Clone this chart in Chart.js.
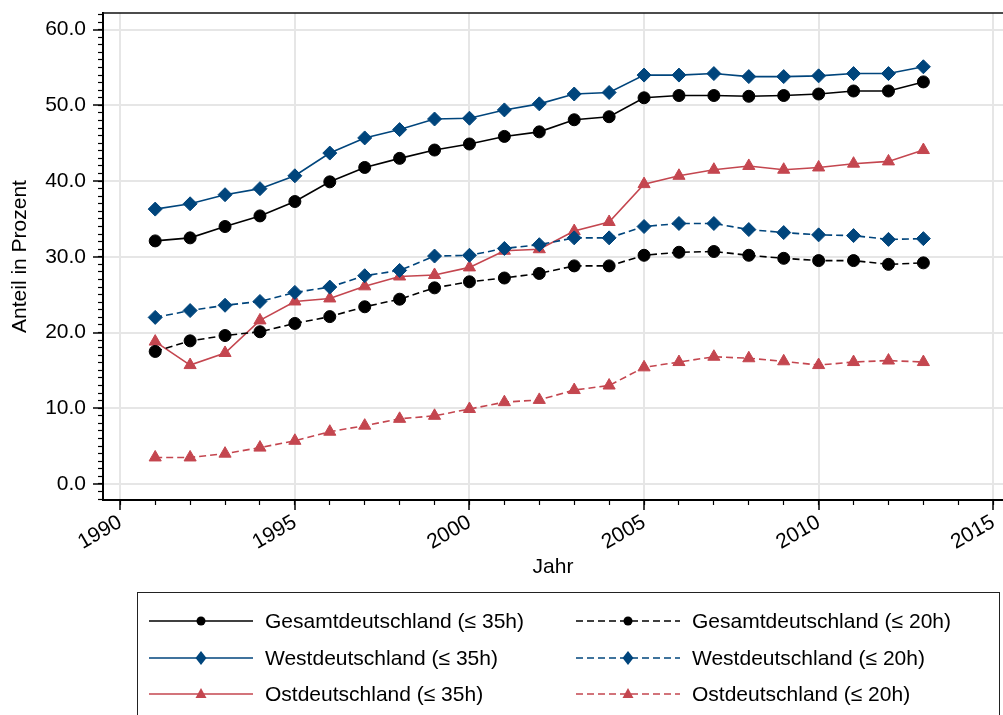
<!DOCTYPE html>
<html lang="de">
<head>
<meta charset="utf-8">
<title>Anteil in Prozent</title>
<script src="https://cdn.jsdelivr.net/npm/chart.js@4.4.1/dist/chart.umd.min.js"></script>
<style>
  html, body { margin: 0; padding: 0; background: #fff; overflow: hidden; }
  #wrap { position: relative; width: 1003px; height: 715px; }
  #chart { position: absolute; left: 0; top: 0; }
  #legend {
    position: absolute; left: 137px; top: 592px; width: 863px; height: 140px;
    border: 1px solid #222; box-sizing: border-box;
    font: 21px "Liberation Sans", Arial, sans-serif; color: #000;
  }
  .item { position: absolute; height: 24px; display: flex; align-items: center; white-space: nowrap; }
  .item svg { flex: none; }
  .item span { margin-left: 12px; }
</style>
</head>
<body>
<div id="wrap">
  <canvas id="chart" width="1003" height="715"></canvas>
  <div id="legend"></div>
</div>
<script>
// years on the x axis
const years = [1991, 1992, 1993, 1994, 1995, 1996, 1997, 1998, 1999, 2000, 2001, 2002,
               2003, 2004, 2005, 2006, 2007, 2008, 2009, 2010, 2011, 2012, 2013];

// share in percent
const gesamt35 = [32.1, 32.5, 34.0, 35.4, 37.3, 39.9, 41.8, 43.0, 44.1, 44.9, 45.9, 46.5,
                  48.1, 48.5, 51.0, 51.3, 51.3, 51.2, 51.3, 51.5, 51.9, 51.9, 53.1];
const gesamt20 = [17.5, 18.9, 19.6, 20.1, 21.2, 22.1, 23.4, 24.4, 25.9, 26.7, 27.2, 27.8,
                  28.8, 28.8, 30.2, 30.6, 30.7, 30.2, 29.8, 29.5, 29.5, 29.0, 29.2];
const west35 = [36.3, 37.0, 38.2, 39.0, 40.7, 43.7, 45.7, 46.8, 48.2, 48.3, 49.4, 50.2,
                51.5, 51.7, 54.0, 54.0, 54.2, 53.8, 53.8, 53.9, 54.2, 54.2, 55.1];
const west20 = [22.0, 22.9, 23.6, 24.1, 25.3, 26.0, 27.5, 28.2, 30.1, 30.2, 31.1, 31.6,
                32.5, 32.5, 34.0, 34.4, 34.4, 33.6, 33.2, 32.9, 32.8, 32.3, 32.4];
const ost35 = [18.8, 15.7, 17.3, 21.6, 24.1, 24.5, 26.1, 27.4, 27.6, 28.6, 30.8, 31.0,
               33.4, 34.6, 39.6, 40.7, 41.5, 42.0, 41.5, 41.8, 42.3, 42.6, 44.1];
const ost20 = [3.5, 3.5, 4.0, 4.8, 5.7, 6.9, 7.7, 8.6, 9.0, 9.9, 10.8, 11.1,
               12.4, 13.0, 15.4, 16.1, 16.8, 16.6, 16.2, 15.7, 16.1, 16.3, 16.1];

const seriesLabels = [
  'Gesamtdeutschland (≤ 35h)', 'Gesamtdeutschland (≤ 20h)',
  'Westdeutschland (≤ 35h)', 'Westdeutschland (≤ 20h)',
  'Ostdeutschland (≤ 35h)', 'Ostdeutschland (≤ 20h)'
];

// labelled ticks
const xTicks = [1990, 1995, 2000, 2005, 2010, 2015];
const yTicks = [0, 10, 20, 30, 40, 50, 60];

const BLACK = '#000000';
const BLUE = '#00457c';
const RED = '#c4464f';
const GRID = '#e6e6e6';
const FONT = '"Liberation Sans", Arial, sans-serif';

Chart.defaults.font.family = FONT;
Chart.defaults.font.size = 21;
Chart.defaults.color = '#000';

const toPoints = arr => years.map((x, i) => ({ x: x, y: arr[i] }));

const makeSet = (label, values, color, dashed, style, radius) => ({
  label: label,
  data: toPoints(values),
  borderColor: color,
  backgroundColor: color,
  borderWidth: 1.6,
  borderDash: dashed ? [7, 4] : [],
  pointStyle: style,
  pointRadius: radius,
  pointBackgroundColor: color,
  pointBorderColor: color,
  pointBorderWidth: 1,
  tension: 0,
  fill: false
});

const datasets = [
  makeSet(seriesLabels[0], gesamt35, BLACK, false, 'circle', 6),
  makeSet(seriesLabels[1], gesamt20, BLACK, true, 'circle', 6),
  makeSet(seriesLabels[2], west35, BLUE, false, 'rectRot', 7),
  makeSet(seriesLabels[3], west20, BLUE, true, 'rectRot', 7),
  makeSet(seriesLabels[4], ost35, RED, false, 'triangle', 7),
  makeSet(seriesLabels[5], ost20, RED, true, 'triangle', 7)
];

const X_MIN = 1989.505, X_MAX = 2015.28;
const Y_MIN = -2.12, Y_MAX = 62.2;

// tick helpers: fixed major ticks, minor ticks at every whole unit
const setTicks = values => scale => { scale.ticks = values.map(v => ({ value: v })); };
const unitTicks = scale => {
  const t = [];
  for (let v = Math.ceil(scale.min); v <= scale.max; v++) t.push({ value: v });
  scale.ticks = t;
};

// top edge of the plot frame
const framePlugin = {
  id: 'frame',
  beforeDatasetsDraw(chart) {
    const { ctx, chartArea } = chart;
    ctx.save();
    ctx.strokeStyle = '#111';
    ctx.lineWidth = 1.6;
    ctx.beginPath();
    ctx.moveTo(chartArea.left, chartArea.top);
    ctx.lineTo(chartArea.right, chartArea.top);
    ctx.stroke();
    ctx.restore();
  }
};

const chart = new Chart(document.getElementById('chart').getContext('2d'), {
  type: 'line',
  data: { datasets: datasets },
  options: {
    responsive: false,
    animation: false,
    events: [],
    layout: { autoPadding: false, padding: { top: 13, right: 0, bottom: 135, left: 0 } },
    plugins: {
      legend: { display: false },
      tooltip: { enabled: false }
    },
    scales: {
      x: {
        type: 'linear',
        position: 'bottom',
        weight: 1,
        min: X_MIN,
        max: X_MAX,
        bounds: 'data',
        grid: { color: GRID, lineWidth: 2, tickColor: '#000', tickLength: 10, tickWidth: 1.5 },
        border: { color: '#000', width: 2 },
        ticks: {
          autoSkip: false,
          minRotation: 30,
          maxRotation: 30,
          padding: 0,
          callback: v => String(v)
        },
        afterBuildTicks: setTicks(xTicks),
        title: { display: true, text: 'Jahr', padding: 0 },
        afterFit(scale) {
          scale.height = 80;
          scale.paddingLeft = 0;
          scale.paddingRight = 0;
        }
      },
      xMinor: {
        type: 'linear',
        position: 'bottom',
        weight: 0,
        min: X_MIN,
        max: X_MAX,
        bounds: 'data',
        grid: { drawOnChartArea: false, tickColor: '#000', tickLength: 5, tickWidth: 1.2 },
        border: { display: false },
        ticks: { display: false, autoSkip: false },
        afterBuildTicks: unitTicks,
        afterFit(scale) { scale.height = 0; }
      },
      y: {
        type: 'linear',
        position: 'left',
        weight: 1,
        min: Y_MIN,
        max: Y_MAX,
        bounds: 'data',
        grid: { color: GRID, lineWidth: 2, tickColor: '#000', tickLength: 10, tickWidth: 1.5 },
        border: { color: '#000', width: 2 },
        ticks: {
          autoSkip: false,
          padding: 7,
          callback: v => v.toFixed(1)
        },
        afterBuildTicks: setTicks(yTicks),
        title: { display: true, text: 'Anteil in Prozent', padding: { top: 8, bottom: 0 } },
        afterFit(scale) {
          scale.width = 103;
          scale.paddingTop = 0;
          scale.paddingBottom = 0;
        }
      },
      yMinor: {
        type: 'linear',
        position: 'left',
        weight: 0,
        min: Y_MIN,
        max: Y_MAX,
        bounds: 'data',
        grid: { drawOnChartArea: false, tickColor: '#000', tickLength: 5, tickWidth: 1.2 },
        border: { display: false },
        ticks: { display: false, autoSkip: false },
        afterBuildTicks: unitTicks,
        afterFit(scale) { scale.width = 0; }
      }
    }
  },
  plugins: [framePlugin]
});

// legend box below the plot, built from the datasets
function markerSvg(style, color) {
  if (style === 'circle') return `<circle cx="52" cy="10" r="4.5" fill="${color}"/>`;
  if (style === 'rectRot') return `<polygon points="52,3 57.5,10 52,17 46.5,10" fill="${color}"/>`;
  return `<polygon points="52,4 57.5,14 46.5,14" fill="${color}"/>`;
}

const legendEl = document.getElementById('legend');
const rowCenters = [28, 65, 101];
const colLefts = [11, 438];
chart.data.datasets.forEach((ds, i) => {
  const row = Math.floor(i / 2), col = i % 2;
  const dash = ds.borderDash.length ? `stroke-dasharray="${ds.borderDash.join(' ')}"` : '';
  const item = document.createElement('div');
  item.className = 'item';
  item.style.left = colLefts[col] + 'px';
  item.style.top = (rowCenters[row] - 12) + 'px';
  item.innerHTML =
    `<svg width="104" height="20" viewBox="0 0 104 20">` +
    `<line x1="0" y1="10" x2="104" y2="10" stroke="${ds.borderColor}" stroke-width="1.5" ${dash}/>` +
    markerSvg(ds.pointStyle, ds.borderColor) +
    `</svg><span>${ds.label}</span>`;
  legendEl.appendChild(item);
});
</script>
</body>
</html>
